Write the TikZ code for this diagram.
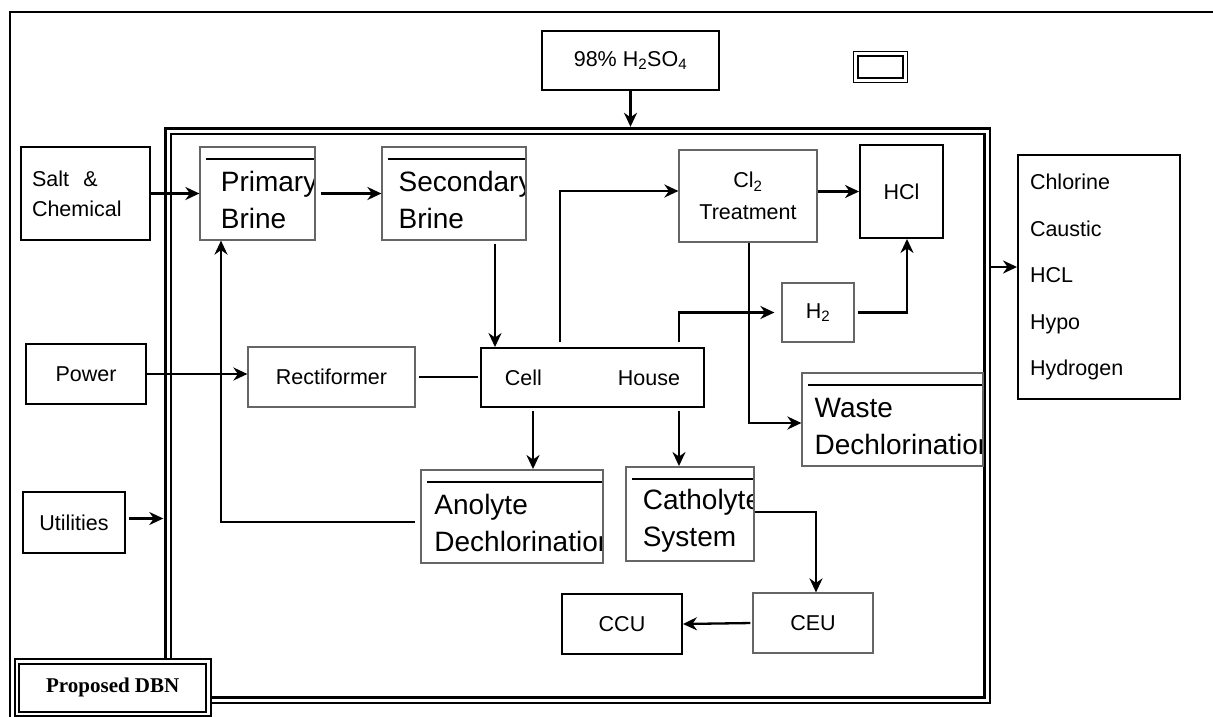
\documentclass[tikz,border=0pt]{standalone}
\usepackage{fontspec}
\setmainfont{Liberation Sans}
\newfontfamily\dbnfont{Liberation Serif}
\usetikzlibrary{arrows.meta}

\begin{document}
\begin{tikzpicture}[x=1pt,y=-1pt,
  every node/.style={font=\fontsize{21.5}{30}\selectfont},
  box/.style={draw,line width=1.9pt,inner sep=0pt},
  gbox/.style={draw=black!60,line width=1.2pt,inner sep=0pt},
  dbox/.style={draw,double,double distance=2.5pt,line width=1.9pt,fill=white},
  tbox/.style={gbox,path picture={
    \draw[draw=black,line width=2.6pt] ([shift={(6pt,-12pt)}]path picture bounding box.north west)
      -- ([yshift=-12pt]path picture bounding box.north east);
    \node[anchor=north west,inner sep=0pt,align=left,font=\fontsize{28}{37}\selectfont]
      at ([shift={(11pt,-6pt)}]path picture bounding box.north west) {#1};}},
  link/.style={line width=2.3pt},
  >={Stealth[length=14pt,width=13pt,inset=4.5pt]}]
\useasboundingbox[fill=white] (0,0) rectangle (1213,717);
\draw[line width=1.6pt] (10,718) -- (10,12) -- (1214,12);
% plant boundary and legend
\node[draw,double,double distance=3pt,line width=2.4pt,minimum width=819pt,minimum height=569pt] (plant) at (577.5,415.5) {};
\node[draw,double,double distance=3pt,line width=1.7pt,minimum width=49.4pt,minimum height=26.4pt] (key) at (880.5,67) {};
% inputs
\node[box,minimum width=177pt,minimum height=59pt] (acid) at (630.5,60.5) {98\% H\textsubscript{2}SO\textsubscript{4}};
\node[box,minimum width=129pt,minimum height=93pt,text width=107pt,align=left] (salt) at (85.5,193.5) {Salt\ \ \&\\Chemical};
\node[box,minimum width=120pt,minimum height=60pt] (power) at (86,374) {Power};
\node[box,minimum width=102pt,minimum height=61pt] (util) at (74,522.5) {Utilities};
% process units
\node[tbox={Primary\\Brine},minimum width=115pt,minimum height=93pt] (prim) at (257.5,193.5) {};
\node[tbox={Secondary\\Brine},minimum width=144pt,minimum height=93pt] (sec) at (454,193.5) {};
\node[gbox,minimum width=138pt,minimum height=92pt,align=center,font=\fontsize{21.5}{32}\selectfont] (cltr) at (748,196) {Cl\textsubscript{2}\\Treatment};
\node[box,minimum width=83pt,minimum height=93pt] (hcl) at (901.5,191.5) {HCl};
\node[gbox,minimum width=72pt,minimum height=59pt] (hyd) at (818,312.5) {H\textsubscript{2}};
\node[tbox={Waste\\Dechlorination},minimum width=181pt,minimum height=93pt] (waste) at (892.5,419.5) {};
\node[gbox,minimum width=167pt,minimum height=60pt] (rect) at (331.5,377) {Rectiformer};
\node[box,minimum width=223pt,minimum height=59pt] (cell) at (592.5,377.5) {Cell\hspace{76pt}House};
\node[tbox={Anolyte\\Dechlorination},box,minimum width=182pt,minimum height=93pt] (ano) at (512,516.5) {};
\node[tbox={Catholyte\\System},box,minimum width=128pt,minimum height=94pt] (cath) at (690,514) {};
\node[gbox,minimum width=120pt,minimum height=60pt] (ceu) at (813,623) {CEU};
\node[box,minimum width=120pt,minimum height=60pt] (ccu) at (622,624) {CCU};
% outputs
\node[box,minimum width=162pt,minimum height=244pt,text width=138pt,align=left,font=\fontsize{21.5}{46.5}\selectfont] (prod) at (1099,277) {Chlorine\\Caustic\\HCL\\Hypo\\Hydrogen};
\node[dbox,minimum width=191.5pt,minimum height=52.5pt,font=\dbnfont\bfseries\fontsize{21}{25}\selectfont] (dbn) at (112.75,687.75) {Proposed DBN};
% helper points
\coordinate (secout) at ([xshift=41pt]sec.south);
\coordinate (cellano) at ([xshift=-59.5pt]cell.south);
\coordinate (cellcat) at ([xshift=86.5pt]cell.south);
\coordinate (utilout) at ([yshift=4pt]util.east);
\coordinate (prodin) at ([yshift=10pt]prod.west);
% flows
\draw[link,->,shorten >=3pt] (acid.south) -- (acid.south |- plant.north);
\draw[link,->] (salt.east) -- (prim.west);
\draw[link,->,shorten <=5pt] (prim.east) -- (sec.west);
\draw[link,->,shorten <=3pt] (secout) -- (secout |- cell.north);
\draw[link,->,shorten <=5pt] ([xshift=-32.5pt]cell.north) |- ([yshift=5pt]cltr.west);
\draw[link,->] (cltr.east |- hcl.west) -- (hcl.west);
\draw[link,->,shorten <=5pt,shorten >=7pt] ([xshift=86.5pt]cell.north) |- (hyd.west);
\draw[link,->,shorten <=3pt] (hyd.east) -| ([xshift=5.5pt]hcl.south);
\draw[link,->] ([xshift=1pt]cltr.south) |- ([yshift=-3.5pt]waste.west);
\draw[link,->] (power.east) -- (power.east -| rect.west);
\draw[link,shorten <=3pt,shorten >=2pt] (rect.east) -- (rect.east -| cell.west);
\draw[link,->,shorten <=3pt] (cellano) -- (cellano |- ano.north);
\draw[link,->,shorten <=3pt] (cellcat) -- (cellcat |- cath.north);
\draw[link,->,shorten <=5pt] ([yshift=-5.5pt]ano.west) -| ([xshift=-36.5pt]prim.south);
\draw[link,->] ([yshift=2pt]cath.east) -| ([xshift=3pt]ceu.north);
\draw[link,->,shorten <=2pt] (ceu.west) -- (ccu.east);
\draw[link,->,shorten <=3pt,shorten >=3.5pt] (utilout) -- (utilout -| plant.west);
\draw[link,->,shorten <=3pt] (prodin -| plant.east) -- (prodin);
\end{tikzpicture}
\end{document}
